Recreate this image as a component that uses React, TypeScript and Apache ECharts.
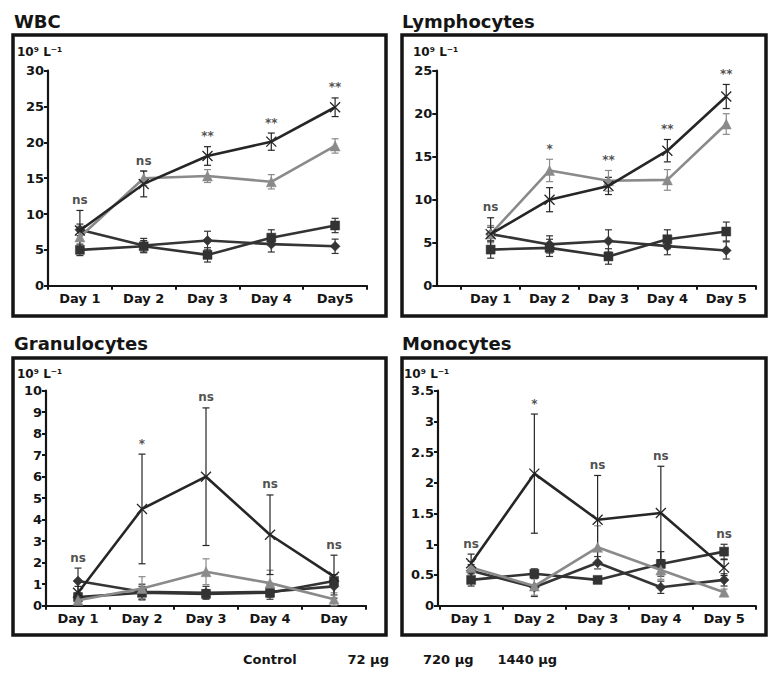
import React, { useEffect, useRef } from "react";
import * as echarts from "echarts";

// ---------- DATA ----------
const seriesNames = ["Control", "72 μg", "720 μg", "1440 μg"];

// WBC
const wbcDays = ["Day 1", "Day 2", "Day 3", "Day 4", "Day5"];
const wbcControl = [7.8, 5.6, 6.3, 5.8, 5.5];
const wbcControlErr = [0.8, 1.0, 1.3, 1.1, 1.0];
const wbc72 = [5.0, 5.5, 4.3, 6.7, 8.4];
const wbc72Err = [0.8, 0.8, 1.0, 1.1, 1.0];
const wbc720 = [6.8, 15.0, 15.3, 14.5, 19.5];
const wbc720Err = [1.5, 1.0, 0.9, 1.0, 1.0];
const wbc1440 = [7.7, 14.2, 18.1, 20.1, 24.9];
const wbc1440Err = [2.8, 1.8, 1.3, 1.2, 1.3];
const wbcSig = ["ns", "ns", "**", "**", "**"];

// Lymphocytes
const lymDays = ["Day 1", "Day 2", "Day 3", "Day 4", "Day 5"];
const lymControl = [6.0, 4.8, 5.2, 4.6, 4.1];
const lymControlErr = [0.8, 1.0, 1.3, 1.0, 1.0];
const lym72 = [4.2, 4.4, 3.4, 5.4, 6.3];
const lym72Err = [1.0, 1.0, 0.9, 1.1, 1.1];
const lym720 = [6.0, 13.4, 12.2, 12.3, 18.8];
const lym720Err = [1.0, 1.3, 1.2, 1.2, 1.2];
const lym1440 = [6.0, 10.0, 11.6, 15.7, 22.0];
const lym1440Err = [1.9, 1.4, 1.0, 1.3, 1.4];
const lymSig = ["ns", "*", "**", "**", "**"];

// Granulocytes
const graDays = ["Day 1", "Day 2", "Day 3", "Day 4", "Day"];
const graControl = [1.15, 0.65, 0.6, 0.65, 0.9];
const graControlErr = [0.6, 0.35, 0.3, 0.35, 0.4];
const gra72 = [0.4, 0.6, 0.55, 0.6, 1.15];
const gra72Err = [0.2, 0.3, 0.2, 0.2, 0.3];
const gra720 = [0.25, 0.8, 1.58, 1.05, 0.3];
const gra720Err = [0.2, 0.55, 0.6, 0.6, 0.3];
const gra1440 = [0.6, 4.5, 6.0, 3.3, 1.35];
const gra1440Err = [0.3, 2.55, 3.2, 1.85, 1.0];
const graSig = ["ns", "*", "ns", "ns", "ns"];

// Monocytes
const monDays = ["Day 1", "Day 2", "Day 3", "Day 4", "Day 5"];
const monControl = [0.57, 0.3, 0.7, 0.3, 0.42];
const monControlErr = [0.1, 0.15, 0.1, 0.1, 0.1];
const mon72 = [0.42, 0.52, 0.42, 0.68, 0.88];
const mon72Err = [0.1, 0.08, 0.05, 0.2, 0.12];
const mon720 = [0.62, 0.32, 0.95, 0.58, 0.22];
const mon720Err = [0.1, 0.15, 0.35, 0.15, 0.05];
const mon1440 = [0.69, 2.15, 1.4, 1.51, 0.62];
const mon1440Err = [0.15, 0.97, 0.72, 0.76, 0.13];
const monSig = ["ns", "*", "ns", "ns", "ns"];

// ---------- STYLE / LAYOUT ----------
const FONT = "DejaVu Sans";
const INK = "#151515";
const seriesColors = ["#353535", "#333333", "#8a8a8a", "#262626"];
const seriesSymbols = [
  "diamond",
  "rect",
  "triangle",
  "path://M0,0L10,10M10,0L0,10",
];
const seriesSymbolSizes = [10, 9, 10, 10];

const panels = [
  {
    title: "WBC",
    days: wbcDays,
    values: [wbcControl, wbc72, wbc720, wbc1440],
    errors: [wbcControlErr, wbc72Err, wbc720Err, wbc1440Err],
    sig: wbcSig,
    yMax: 30,
    yInterval: 5,
    box: { x: 13, y: 35, w: 373, h: 281 },
    titlePos: [14, 12],
    unitPos: [17, 46],
    axisLeft: 48,
    plotLeft: 48,
    right: 401,
    top: 70.7,
    bottom: 387.3,
  },
  {
    title: "Lymphocytes",
    days: lymDays,
    values: [lymControl, lym72, lym720, lym1440],
    errors: [lymControlErr, lym72Err, lym720Err, lym1440Err],
    sig: lymSig,
    yMax: 25,
    yInterval: 5,
    box: { x: 402, y: 35, w: 364, h: 281 },
    titlePos: [402, 12],
    unitPos: [413, 46],
    axisLeft: 436.3,
    plotLeft: 461.2,
    right: 12.3,
    top: 70.7,
    bottom: 387.3,
  },
  {
    title: "Granulocytes",
    days: graDays,
    values: [graControl, gra72, gra720, gra1440],
    errors: [graControlErr, gra72Err, gra720Err, gra1440Err],
    sig: graSig,
    yMax: 10,
    yInterval: 1,
    box: { x: 13, y: 358, w: 373, h: 277 },
    titlePos: [14, 334],
    unitPos: [17, 368],
    axisLeft: 46,
    plotLeft: 46,
    right: 402,
    top: 390.7,
    bottom: 67.3,
  },
  {
    title: "Monocytes",
    days: monDays,
    values: [monControl, mon72, mon720, mon1440],
    errors: [monControlErr, mon72Err, mon720Err, mon1440Err],
    sig: monSig,
    yMax: 3.5,
    yInterval: 0.5,
    box: { x: 402, y: 358, w: 364, h: 277 },
    titlePos: [402, 334],
    unitPos: [404, 368],
    axisLeft: 438,
    plotLeft: 439.5,
    right: 12.3,
    top: 390.7,
    bottom: 67.3,
  },
];

const legendPos = [243, 347.5, 423, 497.5];

function buildOption() {
  const grid: any[] = [];
  const xAxis: any[] = [];
  const yAxis: any[] = [];
  const series: any[] = [];
  const graphic: any[] = [];

  panels.forEach((p, pi) => {
    const gA = pi * 2;
    const gB = pi * 2 + 1;
    grid.push({ left: p.axisLeft, right: p.right, top: p.top, bottom: p.bottom, containLabel: false });
    grid.push({ left: p.plotLeft, right: p.right, top: p.top, bottom: p.bottom, containLabel: false });

    // axis-line-only x axis in grid A
    xAxis.push({
      type: "value",
      gridIndex: gA,
      min: 0,
      max: 1,
      axisLine: { show: true, onZero: false, lineStyle: { color: INK, width: 2.2 } },
      axisTick: { show: false },
      axisLabel: { show: false },
      splitLine: { show: false },
    });
    // category x axis in grid B
    xAxis.push({
      type: "category",
      gridIndex: gB,
      data: p.days,
      boundaryGap: true,
      axisLine: { show: false },
      axisTick: { show: true, length: 4, lineStyle: { color: INK, width: 2 } },
      axisLabel: {
        interval: 0,
        margin: 6,
        color: INK,
        fontFamily: FONT,
        fontWeight: "bold",
        fontSize: 13,
      },
      splitLine: { show: false },
    });
    yAxis.push({
      type: "value",
      gridIndex: gA,
      min: 0,
      max: p.yMax,
      interval: p.yInterval,
      axisLine: { show: true, lineStyle: { color: INK, width: 2.2 } },
      axisTick: { show: true, length: 4, lineStyle: { color: INK, width: 2 } },
      axisLabel: {
        margin: 4,
        color: INK,
        fontFamily: FONT,
        fontWeight: "bold",
        fontSize: 13,
      },
      splitLine: { show: false },
    });
    yAxis.push({
      type: "value",
      gridIndex: gB,
      min: 0,
      max: p.yMax,
      interval: p.yInterval,
      show: false,
      splitLine: { show: false },
    });

    // error bars
    p.values.forEach((vals, si) => {
      const errs = p.errors[si];
      const color = seriesColors[si];
      series.push({
        type: "custom",
        name: seriesNames[si] + " err",
        xAxisIndex: gB,
        yAxisIndex: gB,
        z: 2,
        silent: true,
        encode: { x: 0, y: [1, 2] },
        data: vals.map((v, i) => [i, v - errs[i], v + errs[i]]),
        renderItem: (params: any, api: any) => {
          const x = api.value(0);
          const lo = api.value(1);
          const hi = api.value(2);
          const t = api.coord([x, hi]);
          const b = api.coord([x, lo]);
          const w = 3.5;
          const st = { stroke: color, lineWidth: 1.2 };
          return {
            type: "group",
            children: [
              { type: "line", shape: { x1: t[0], y1: t[1], x2: b[0], y2: b[1] }, style: st },
              { type: "line", shape: { x1: t[0] - w, y1: t[1], x2: t[0] + w, y2: t[1] }, style: st },
              { type: "line", shape: { x1: b[0] - w, y1: b[1], x2: b[0] + w, y2: b[1] }, style: st },
            ],
          };
        },
      });
    });

    // lines
    p.values.forEach((vals, si) => {
      const color = seriesColors[si];
      series.push({
        type: "line",
        name: seriesNames[si],
        xAxisIndex: gB,
        yAxisIndex: gB,
        z: 3 + si,
        data: vals,
        symbol: seriesSymbols[si],
        symbolSize: seriesSymbolSizes[si],
        showAllSymbol: true,
        lineStyle: { color, width: 2.6 },
        itemStyle: { color, borderColor: color, borderWidth: si === 3 ? 1.3 : 0.5 },
      });
    });

    // significance labels
    series.push({
      type: "scatter",
      name: "sig",
      xAxisIndex: gB,
      yAxisIndex: gB,
      z: 10,
      silent: true,
      symbolSize: 1,
      itemStyle: { color: "rgba(0,0,0,0)" },
      data: p.days.map((_, i) => [
        i,
        Math.max(...p.values.map((vals, si) => vals[i] + p.errors[si][i])),
      ]),
      label: {
        show: true,
        position: "top",
        distance: 4,
        formatter: (prm: any) => p.sig[prm.dataIndex],
        color: "#222",
        fontFamily: FONT,
        fontWeight: "bold",
        fontSize: 12,
      },
    });

    // box, title, unit
    graphic.push({
      type: "rect",
      shape: { x: p.box.x, y: p.box.y, width: p.box.w, height: p.box.h },
      style: { fill: "none", stroke: INK, lineWidth: 3.5 },
      silent: true,
    });
    graphic.push({
      type: "text",
      x: p.titlePos[0],
      y: p.titlePos[1],
      style: {
        text: p.title,
        fill: INK,
        font: `bold 18px "${FONT}"`,
        textVerticalAlign: "top",
      },
    });
    graphic.push({
      type: "text",
      x: p.unitPos[0],
      y: p.unitPos[1],
      style: {
        text: "10⁹ L⁻¹",
        fill: INK,
        font: `bold 12px "${FONT}"`,
        textVerticalAlign: "top",
      },
    });
  });

  const legend = seriesNames.map((name, i) => ({
    data: [name],
    left: legendPos[i],
    top: 653,
    icon: "none",
    itemWidth: 0,
    itemHeight: 0,
    itemGap: 0,
    padding: 0,
    selectedMode: false,
    textStyle: {
      color: INK,
      fontFamily: FONT,
      fontWeight: "bold",
      fontSize: 13,
      padding: [0, 0, 0, -5],
    },
  }));

  return {
    animation: false,
    backgroundColor: "#ffffff",
    textStyle: { fontFamily: FONT },
    grid,
    xAxis,
    yAxis,
    series,
    graphic,
    legend,
  };
}

export default function App() {
  const ref = useRef<HTMLDivElement>(null);
  useEffect(() => {
    if (!ref.current) return;
    const chart = echarts.init(ref.current, null, { renderer: "svg" });
    chart.setOption(buildOption() as any);
    return () => chart.dispose();
  }, []);
  return (
    <div
      ref={ref}
      style={{ position: "absolute", left: 0, top: 0, width: 768, height: 673 }}
    />
  );
}
